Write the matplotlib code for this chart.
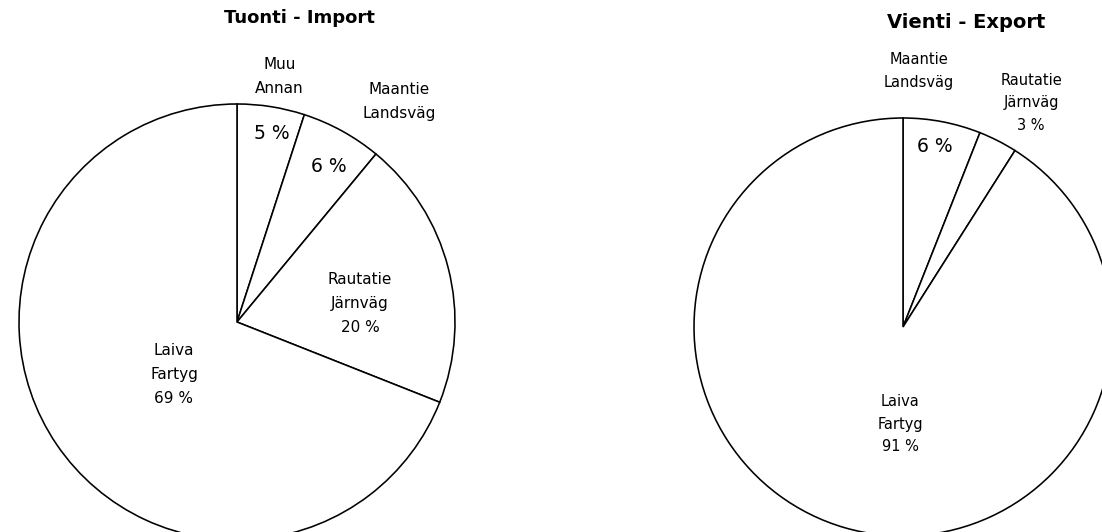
import matplotlib
matplotlib.use("Agg")
import matplotlib.pyplot as plt

# ---- data ----
import_labels = ["Muu\nAnnan", "Maantie\nLandsväg", "Rautatie\nJärnväg", "Laiva\nFartyg"]
import_values = [5, 6, 20, 69]
export_labels = ["Maantie\nLandsväg", "Rautatie\nJärnväg", "Laiva\nFartyg"]
export_values = [6, 3, 91]
titles = ["Tuonti - Import", "Vienti - Export"]

# ---- layout (pixel coordinates, y measured from top) ----
W, H = 1102, 532
pies = [
    dict(values=import_values, labels=import_labels, center=(237, 322), radius=218,
         title_pos=(299, 18), title_size=13, linespacing=1.72,
         text=[(279.5, 76.5, 11, None), (399, 101.5, 11, None), (360, 303.5, 11, "in"), (174, 374.5, 11, "in")],
         pct=[(272, 133.5, 13.5), (329, 167, 13.5), None, None]),
    dict(values=export_values, labels=export_labels, center=(903, 327), radius=209,
         title_pos=(966, 22), title_size=14, linespacing=1.62,
         text=[(919, 71, 10.5, None), (1031, 103, 10.5, "in"), (900, 424, 10.5, "in")],
         pct=[(935, 147, 13.5), None, None]),
]

plt.rcParams['font.family'] = ['DejaVu Sans']
fig = plt.figure(figsize=(W / 100, H / 100), dpi=100)
ax = fig.add_axes([0, 0, 1, 1])

for p, title in zip(pies, titles):
    cx, cy = p["center"]
    ax.pie(p["values"], startangle=90, counterclock=False,
           center=(cx, H - cy), radius=p["radius"],
           wedgeprops=dict(facecolor="white", edgecolor="black", linewidth=1.15))
    tx, ty = p["title_pos"]
    ax.text(tx, H - ty, title, ha="center", va="center",
            fontsize=p["title_size"], fontweight="bold", color="black")
    for lab, val, (x, y, fs, mode), pc in zip(p["labels"], p["values"], p["text"], p["pct"]):
        s = lab + (f"\n{val} %" if mode == "in" else "")
        ax.text(x, H - y, s, ha="center", va="center", fontsize=fs,
                linespacing=p["linespacing"], color="black")
        if pc is not None:
            px, py, pfs = pc
            ax.text(px, H - py, f"{val} %", ha="center", va="center",
                    fontsize=pfs, color="black")

ax.set_xlim(0, W)
ax.set_ylim(0, H)
ax.set_aspect("equal")
ax.axis("off")
fig.savefig("out.png", dpi=100, facecolor="white")
